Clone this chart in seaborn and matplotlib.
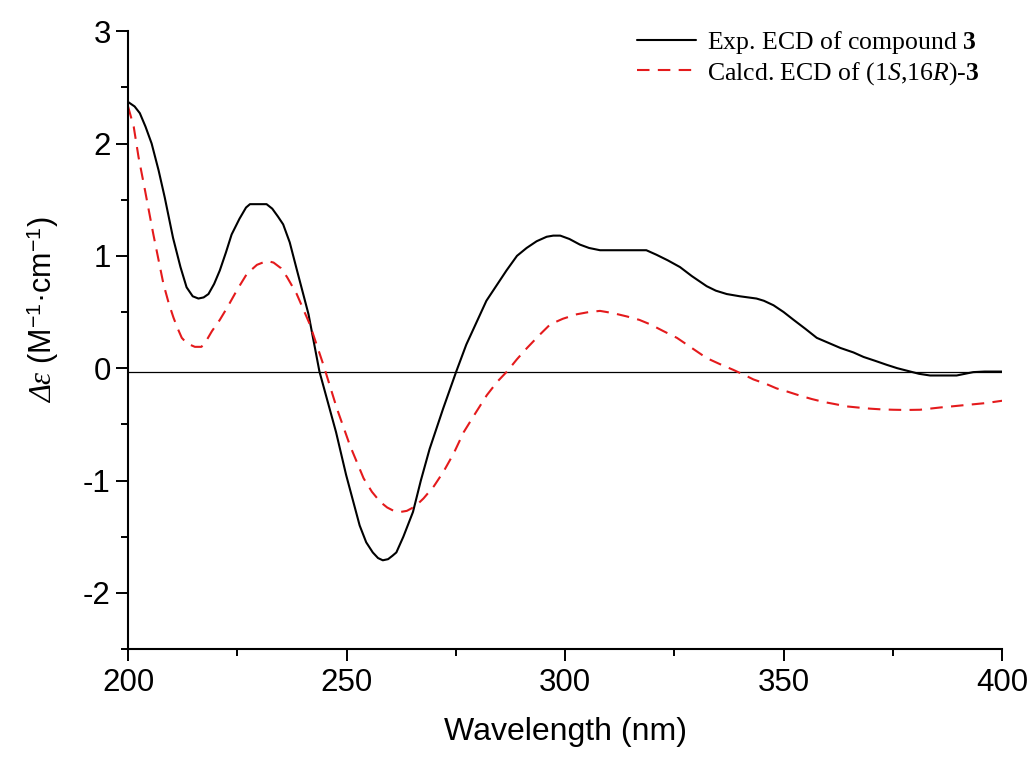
import numpy as np
import pandas as pd
import seaborn as sns
import matplotlib.pyplot as plt
from matplotlib.ticker import MultipleLocator

# Exp. ECD (black solid)
exp_wl = [200, 201.5, 202.7, 204, 205.4, 207, 208.4, 210.3, 212, 213.4,
          214.8, 216.1, 217.3, 218.4, 219.7, 221, 222.4, 223.7, 225.5, 227,
          227.9, 231.7, 233, 234.3, 235.5, 237, 238.6, 241.3, 243.8, 247.6,
          249.9, 253, 254.5, 256, 257.2, 258.3, 259.5, 260.5, 261.4, 263,
          265.2, 267, 269, 272.1, 275.1, 277.4, 282, 286.6, 289, 291.2,
          293.5, 295.8, 297.3, 298.9, 301, 303.4, 305.5, 308, 313, 318.6,
          320.9, 323.5, 326.3, 329, 332.4, 334.5, 337, 340, 343.8, 345.5,
          347.7, 350, 352.3, 355, 357.6, 360, 363, 366, 368.3, 371,
          373.6, 376, 379, 381, 383.5, 389.6, 391.5, 393.4, 396, 400]
exp_de = [2.37, 2.33, 2.27, 2.15, 2.0, 1.76, 1.52, 1.16, 0.9, 0.72,
          0.64, 0.62, 0.63, 0.66, 0.75, 0.87, 1.03, 1.19, 1.33, 1.43,
          1.46, 1.46, 1.42, 1.35, 1.28, 1.12, 0.88, 0.48, -0.03, -0.57,
          -0.95, -1.40, -1.55, -1.64, -1.69, -1.71, -1.70, -1.67, -1.64, -1.50,
          -1.28, -1.0, -0.72, -0.36, -0.03, 0.21, 0.60, 0.87, 1.0, 1.07,
          1.13, 1.17, 1.18, 1.18, 1.15, 1.10, 1.07, 1.05, 1.05, 1.05,
          1.01, 0.96, 0.90, 0.82, 0.73, 0.69, 0.66, 0.64, 0.62, 0.60,
          0.56, 0.50, 0.43, 0.35, 0.27, 0.23, 0.18, 0.14, 0.10, 0.065,
          0.03, 0.0, -0.03, -0.05, -0.065, -0.065, -0.05, -0.035, -0.03, -0.03]

# Calcd. ECD of (1S,16R)-3 (red dashed)
calc_wl = [200, 201.3, 202.4, 203.9, 205.8, 208.1, 209.3, 210.4, 211.4, 212.3,
           213.5, 215.3, 216.8, 218, 219.2, 221, 222.7, 225, 227.2, 229.5,
           231.8, 233.3, 235, 236.4, 238.6, 241.6, 244.7, 247.8, 250.8, 253.9,
           255.8, 257.7, 259.3, 260.8, 262.3, 263.8, 265.7, 267.6, 270, 272.2,
           274.5, 276.8, 279.5, 282.1, 284.5, 286.7, 289, 291.3, 294, 296.6,
           299.5, 302.7, 305.5, 308, 311, 314.2, 317, 319.5, 322.5, 325.6,
           329, 332.4, 335.5, 338.5, 341, 343.1, 346, 348.4, 351, 353.8,
           356.5, 359.1, 361.8, 364.4, 367, 369.7, 372.5, 375.1, 378, 381.2,
           383.5, 385.8, 388.5, 391.1, 393.8, 396.4, 400]
calc_de = [2.33, 2.15, 1.88, 1.58, 1.19, 0.75, 0.58, 0.45, 0.35, 0.27,
           0.22, 0.19, 0.19, 0.25, 0.33, 0.43, 0.54, 0.70, 0.84, 0.92,
           0.955, 0.94, 0.89, 0.81, 0.66, 0.39, 0.03, -0.36, -0.69, -0.98,
           -1.10, -1.19, -1.24, -1.27, -1.28, -1.27, -1.23, -1.16, -1.05, -0.92,
           -0.76, -0.57, -0.40, -0.24, -0.12, -0.03, 0.08, 0.18, 0.29, 0.39,
           0.44, 0.48, 0.50, 0.51, 0.49, 0.46, 0.43, 0.39, 0.33, 0.27,
           0.18, 0.09, 0.035, -0.015, -0.06, -0.10, -0.14, -0.18, -0.21, -0.245,
           -0.275, -0.30, -0.32, -0.34, -0.35, -0.36, -0.367, -0.37, -0.372, -0.37,
           -0.36, -0.35, -0.34, -0.33, -0.32, -0.31, -0.29]

exp_label = r'Exp. ECD of compound $\mathbf{3}$'
calc_label = r'Calcd. ECD of (1$\mathit{S}$,16$\mathit{R}$)-$\mathbf{3}$'

sns.set_style('ticks')
plt.rcParams['font.family'] = ['Liberation Sans', 'DejaVu Sans']
plt.rcParams['mathtext.fontset'] = 'custom'
plt.rcParams['mathtext.rm'] = 'Liberation Sans'
plt.rcParams['mathtext.it'] = 'Liberation Serif:italic'
plt.rcParams['mathtext.sf'] = 'Liberation Serif:italic'  # italic greek for the y label
plt.rcParams['mathtext.bf'] = 'Liberation Serif:bold'
plt.rcParams['axes.unicode_minus'] = False
for k in ['text.color', 'axes.labelcolor', 'xtick.color', 'ytick.color', 'axes.edgecolor']:
    plt.rcParams[k] = 'black'

fig = plt.figure(figsize=(10.35, 7.6), dpi=100)
ax = fig.add_axes([0.1237, 0.146, 0.8445, 0.813])

ax.axhline(-0.03, color='black', lw=0.9, zorder=1)
sns.lineplot(x=exp_wl, y=exp_de, color='black', lw=1.5, sort=False, ax=ax, label=exp_label)
sns.lineplot(x=calc_wl, y=calc_de, color='#e41a1c', lw=1.5, sort=False, ax=ax,
             label=calc_label, linestyle=(0, (6, 4)))

ax.set_xlim(200, 400)
ax.set_ylim(-2.5, 3)
ax.xaxis.set_major_locator(MultipleLocator(50))
ax.xaxis.set_minor_locator(MultipleLocator(25))
ax.yaxis.set_major_locator(MultipleLocator(1))
ax.yaxis.set_minor_locator(MultipleLocator(0.5))
ax.tick_params(which='major', length=8.5, width=1.4, labelsize=22.5, pad=4)
ax.tick_params(which='minor', length=5, width=1.4)
ax.tick_params(axis='x', pad=5)
for s in ['left', 'bottom']:
    ax.spines[s].set_linewidth(1.5)
sns.despine(ax=ax)

ax.set_xlabel('Wavelength (nm)', fontsize=23)
ax.xaxis.set_label_coords(0.5, -0.11)
ax.set_ylabel(r'$\mathsf{Δε}$ (M$^{-1}$·cm$^{-1}$)', fontsize=22)
ax.yaxis.set_label_coords(-0.077, 0.55)

leg = ax.legend(loc='upper right', frameon=False, handlelength=2.3, handletextpad=0.4,
                labelspacing=0.15, borderaxespad=0.0, bbox_to_anchor=(0.985, 1.02),
                prop={'family': ['Liberation Serif', 'DejaVu Serif'], 'size': 18.5})

fig.savefig('out.png', dpi=100)
